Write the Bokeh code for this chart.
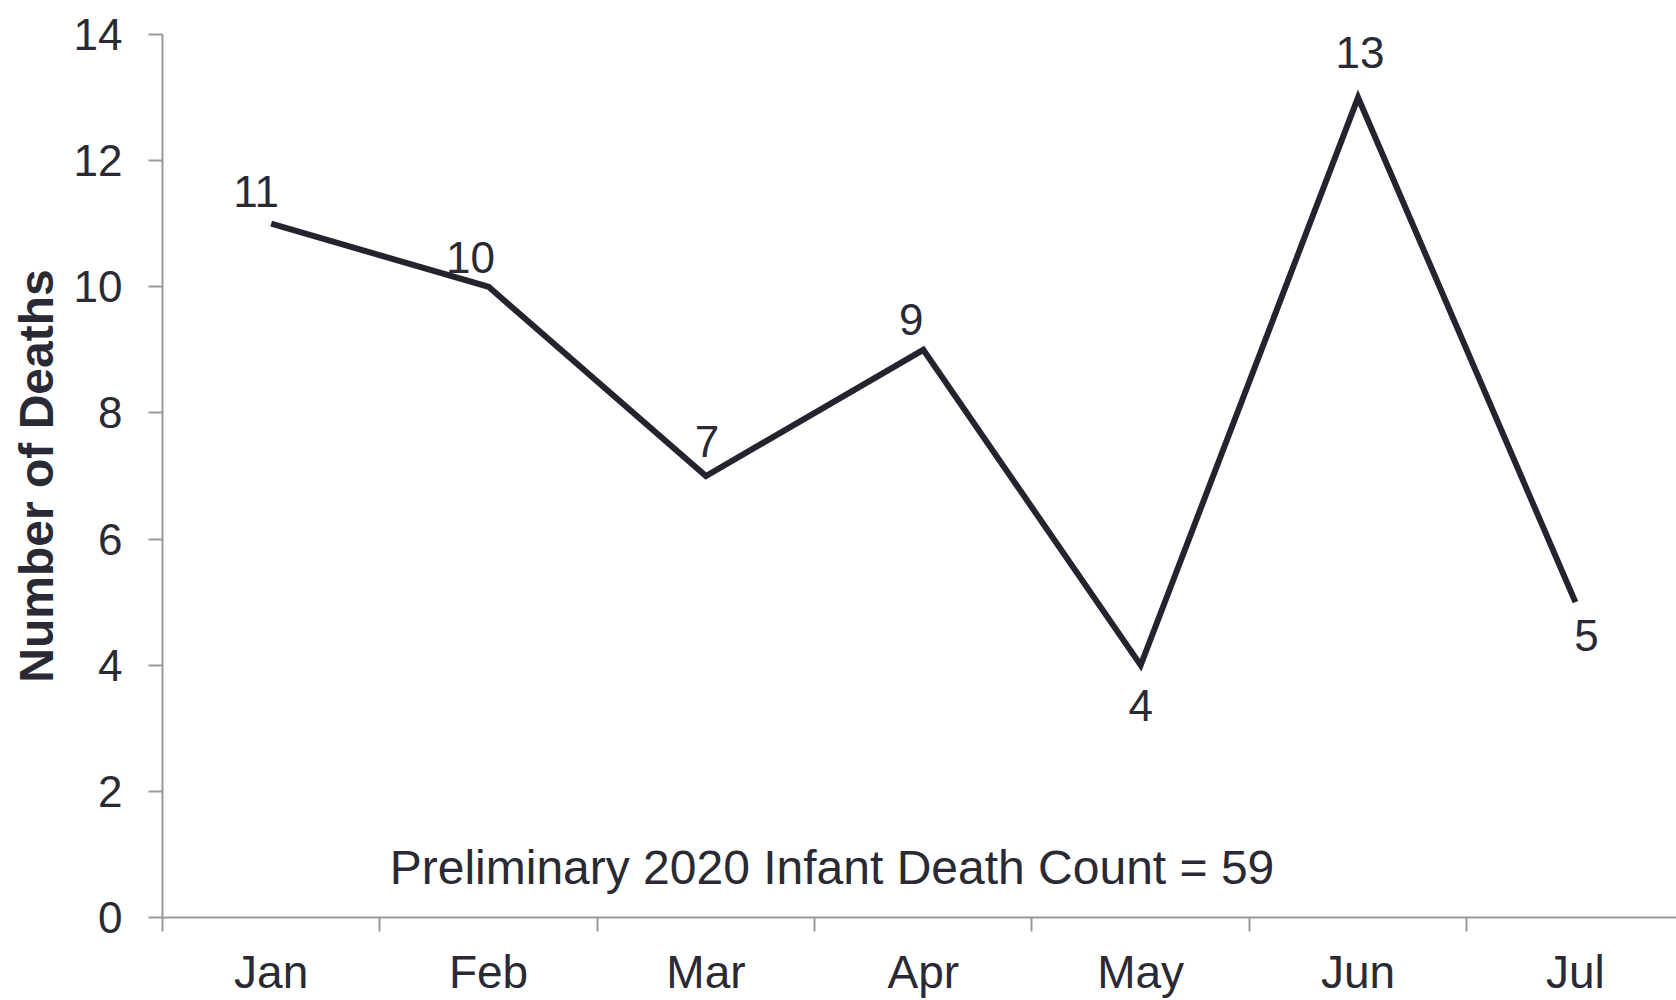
from bokeh.plotting import figure
from bokeh.models import Range1d, FixedTicker, ColumnDataSource, Label, Title
from bokeh.core.properties import value
from bokeh.embed import file_html
from bokeh.resources import INLINE

months = ["Jan", "Feb", "Mar", "Apr", "May", "Jun", "Jul"]
deaths = [11, 10, 7, 9, 4, 13, 5]
y_ticks = [0, 2, 4, 6, 8, 10, 12, 14]
note_text = "Preliminary 2020 Infant Death Count = 59"
y_title = "Number of Deaths"

# label offsets (style only, in screen pixels)
lab_dx = [-15, -18, 1, -12, 0, 2, 11]
lab_dy = [-32, -29, -35, -30, 40, -45, 33]

FONT = "Liberation Sans"
TXT = "#2a2a35"
AX = "#999999"

xs = [i + 0.5 for i in range(len(months))]
src = ColumnDataSource(dict(x=xs, y=deaths, lab=[str(d) for d in deaths], dx=lab_dx, dy=lab_dy))

p = figure(width=1676, height=1000, output_backend="svg", toolbar_location=None,
           x_range=Range1d(0, 6.965), y_range=Range1d(0, 14),
           min_border_left=162, min_border_top=34, min_border_right=0, min_border_bottom=81)
p.outline_line_color = None
p.grid.grid_line_color = None
p.background_fill_color = "white"
p.border_fill_color = "white"

p.line("x", "y", source=src, line_color="#24242e", line_width=6, line_join="miter")
p.text("x", "y", text="lab", source=src, x_offset="dx", y_offset="dy",
       text_align="center", text_baseline="middle", text_font=value(FONT),
       text_font_size="44px", text_color=TXT)

xa = p.xaxis[0]
xa.ticker = FixedTicker(ticks=xs, minor_ticks=list(range(len(months))))
xa.major_label_overrides = {x: m for x, m in zip(xs, months)}
xa.major_tick_out = 0
xa.major_tick_in = 0
xa.minor_tick_out = 14
xa.minor_tick_in = 0
xa.minor_tick_line_color = AX
xa.minor_tick_line_width = 2
xa.axis_line_color = AX
xa.axis_line_width = 2
xa.major_label_text_font = FONT
xa.major_label_text_font_size = "46px"
xa.major_label_text_color = TXT
xa.major_label_standoff = 14

ya = p.yaxis[0]
ya.ticker = FixedTicker(ticks=y_ticks, minor_ticks=[])
ya.major_tick_out = 14
ya.major_tick_in = 0
ya.major_tick_line_color = AX
ya.major_tick_line_width = 2
ya.axis_line_color = AX
ya.axis_line_width = 2
ya.major_label_text_font = FONT
ya.major_label_text_font_size = "44px"
ya.major_label_text_color = TXT
ya.major_label_standoff = 26

p.add_layout(Title(text=y_title, align="center", standoff=15,
                   text_font=FONT, text_font_style="bold", text_font_size="48px",
                   text_color=TXT), "left")

p.add_layout(Label(x=3.08, y=0.79, text=note_text, text_align="center", text_baseline="middle",
                   text_font=FONT, text_font_size="48px", text_color=TXT))

open("out.html", "w").write(file_html(p, INLINE))
